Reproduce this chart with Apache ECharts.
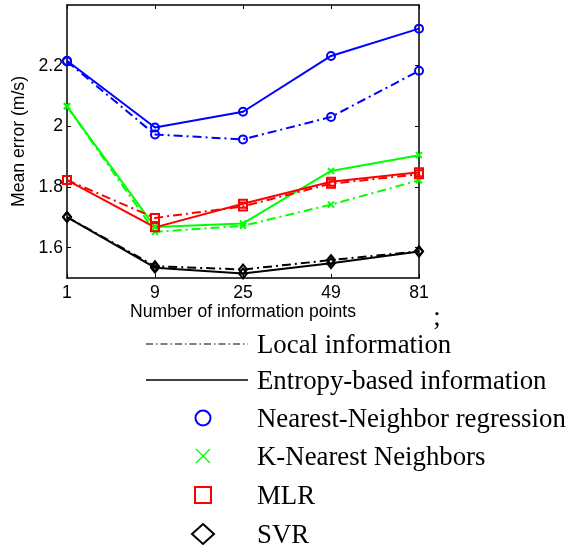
<!DOCTYPE html>
<html>
<head>
<meta charset="utf-8">
<script src="https://cdn.jsdelivr.net/npm/echarts@6/dist/echarts.min.js"></script>
<style>
html,body{margin:0;padding:0;background:#fff;}
#chart{width:581px;height:549px;}
</style>
</head>
<body>
<div id="chart"></div>
<script>
var categories = ['1', '9', '25', '49', '81'];
var yTicks = [1.6, 1.8, 2.0, 2.2];

var nnEntropy  = [2.216, 1.996, 2.048, 2.232, 2.322];
var nnLocal    = [2.214, 1.973, 1.957, 2.031, 2.183];
var knnEntropy = [2.066, 1.668, 1.680, 1.853, 1.905];
var knnLocal   = [2.066, 1.652, 1.672, 1.742, 1.822];
var mlrEntropy = [1.823, 1.667, 1.745, 1.817, 1.849];
var mlrLocal   = [1.823, 1.698, 1.736, 1.811, 1.842];
var svrEntropy = [1.701, 1.534, 1.515, 1.549, 1.587];
var svrLocal   = [1.701, 1.539, 1.528, 1.559, 1.588];

var BLUE = '#0000ff', GREEN = '#00ff00', RED = '#ff0000', BLACK = '#000000';
var DASHDOT = [9, 4, 2, 4];
var SANS = 'Liberation Sans';
var SERIF = 'Liberation Serif';
var XMARK = 'path://M0,0L10,10M10,0L0,10';
var FS = 17.6, LFS = 26.8;

function mk(name, data, color, dashed, symbol, size) {
  return {
    name: name, type: 'line', data: data,
    xAxisIndex: 0, yAxisIndex: 0,
    symbol: symbol, symbolSize: size,
    showSymbol: true, animation: false,
    lineStyle: { color: color, width: 2, type: dashed ? DASHDOT : 'solid' },
    itemStyle: { color: 'rgba(0,0,0,0)', borderColor: color, borderWidth: 2 },
    emphasis: { disabled: true }
  };
}

var chart = echarts.init(document.getElementById('chart'), null, { renderer: 'canvas' });

var lx1 = 146, lx2 = 248, tx = 257, mx = 203;
var rows = [344, 380, 418, 456, 495, 534];
var tOff = 2;

function legText(t, y) {
  return { type: 'text', x: tx, y: y + tOff, style: { text: t, fontFamily: SERIF, fontSize: LFS, fill: '#000', verticalAlign: 'middle' } };
}

var option = {
  backgroundColor: '#ffffff',
  animation: false,
  grid: { left: 67, top: 5, width: 352, height: 273 },
  xAxis: [{
    type: 'category', data: categories, boundaryGap: false, position: 'bottom',
    name: 'Number of information points', nameLocation: 'middle', nameGap: 25,
    nameTextStyle: { fontFamily: SANS, fontSize: FS, color: '#000' },
    axisLine: { show: true, lineStyle: { color: '#000', width: 1.5 } },
    axisTick: { show: true, inside: true, length: 4, interval: 0, lineStyle: { color: '#000' } },
    axisLabel: { show: true, margin: 6, fontFamily: SANS, fontSize: FS, color: '#000', interval: 0 },
    splitLine: { show: false }
  }, {
    type: 'category', data: categories, boundaryGap: false, position: 'top',
    axisLine: { show: true, lineStyle: { color: '#000', width: 1.5 } },
    axisTick: { show: true, inside: true, length: 4, interval: 0, lineStyle: { color: '#000' } },
    axisLabel: { show: false },
    splitLine: { show: false }
  }],
  yAxis: [{
    type: 'value', min: 1.5, max: 2.4, position: 'left',
    name: 'Mean error (m/s)', nameLocation: 'middle', nameGap: 34, nameRotate: 90,
    nameTextStyle: { fontFamily: SANS, fontSize: FS, color: '#000' },
    axisLine: { show: true, lineStyle: { color: '#000', width: 1.5 } },
    axisTick: { show: true, inside: true, length: 4, customValues: yTicks, lineStyle: { color: '#000' } },
    axisLabel: { show: true, margin: 4, fontFamily: SANS, fontSize: FS, color: '#000', customValues: yTicks,
      formatter: function (v) { return String(Math.round(v * 10) / 10); } },
    splitLine: { show: false }
  }, {
    type: 'value', min: 1.5, max: 2.4, position: 'right',
    axisLine: { show: true, lineStyle: { color: '#000', width: 1.5 } },
    axisTick: { show: true, inside: true, length: 4, customValues: yTicks, lineStyle: { color: '#000' } },
    axisLabel: { show: false },
    splitLine: { show: false }
  }],
  series: [
    mk('NN local', nnLocal, BLUE, true, 'circle', 8),
    mk('NN entropy', nnEntropy, BLUE, false, 'circle', 8),
    mk('KNN local', knnLocal, GREEN, true, XMARK, 6),
    mk('KNN entropy', knnEntropy, GREEN, false, XMARK, 6),
    mk('MLR local', mlrLocal, RED, true, 'rect', 8),
    mk('MLR entropy', mlrEntropy, RED, false, 'rect', 8),
    mk('SVR local', svrLocal, BLACK, true, 'diamond', [8, 10]),
    mk('SVR entropy', svrEntropy, BLACK, false, 'diamond', [8, 10])
  ],
  graphic: [
    { type: 'text', x: 437, y: 318, style: { text: ';', fontFamily: SERIF, fontSize: LFS, fill: '#000', align: 'center', verticalAlign: 'middle' } },
    { type: 'line', shape: { x1: lx1, y1: rows[0], x2: lx2, y2: rows[0] }, style: { stroke: '#000', lineWidth: 1.2, lineDash: [7, 3, 1.5, 3] } },
    { type: 'line', shape: { x1: lx1, y1: rows[1], x2: lx2, y2: rows[1] }, style: { stroke: '#000', lineWidth: 1.5 } },
    { type: 'circle', shape: { cx: mx, cy: rows[2], r: 7.5 }, style: { stroke: BLUE, lineWidth: 2, fill: 'none' } },
    { type: 'polyline', shape: { points: [[mx - 7, rows[3] - 7], [mx + 7, rows[3] + 7]] }, style: { stroke: GREEN, lineWidth: 1.2 } },
    { type: 'polyline', shape: { points: [[mx + 7, rows[3] - 7], [mx - 7, rows[3] + 7]] }, style: { stroke: GREEN, lineWidth: 1.2 } },
    { type: 'rect', shape: { x: mx - 8, y: rows[4] - 8, width: 16, height: 16 }, style: { stroke: RED, lineWidth: 2, fill: 'none' } },
    { type: 'polygon', shape: { points: [[mx, rows[5] - 10], [mx + 11, rows[5]], [mx, rows[5] + 10], [mx - 11, rows[5]]] }, style: { stroke: '#000', lineWidth: 2, fill: 'none' } },
    legText('Local information', rows[0]),
    legText('Entropy-based information', rows[1]),
    legText('Nearest-Neighbor regression', rows[2]),
    legText('K-Nearest Neighbors', rows[3]),
    legText('MLR', rows[4]),
    legText('SVR', rows[5])
  ]
};
chart.setOption(option);
</script>
</body>
</html>
